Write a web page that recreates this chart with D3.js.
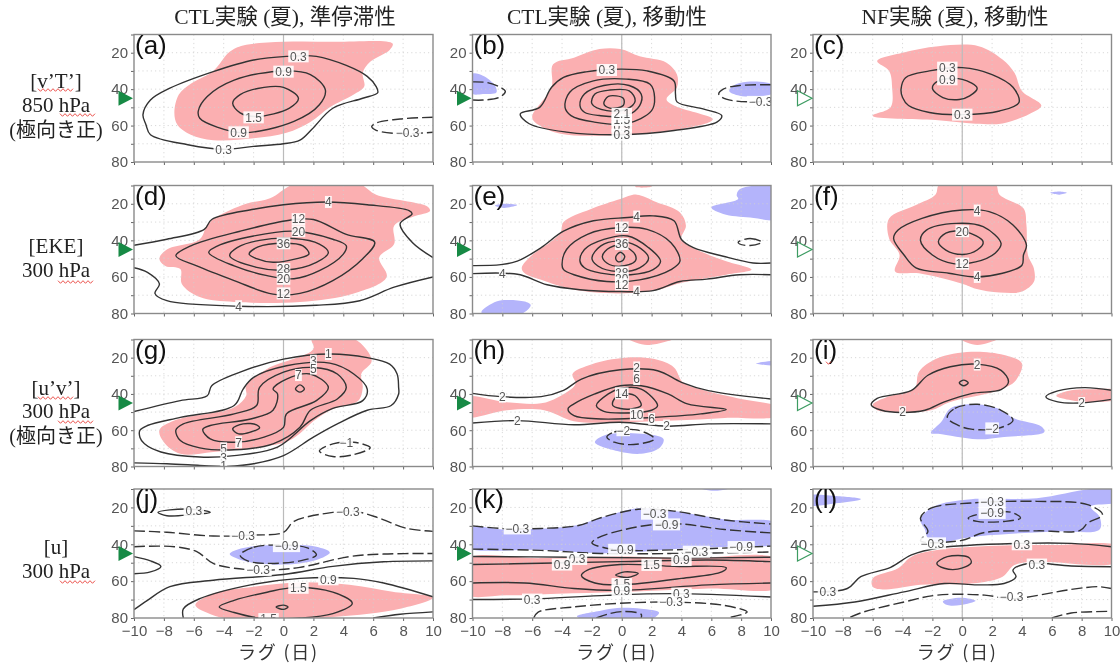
<!DOCTYPE html>
<html><head><meta charset="utf-8">
<script src="https://d3js.org/d3.v7.min.js"></script>
<style>html,body{margin:0;padding:0;background:#fff}svg{display:block;filter:blur(0.45px)}</style>
</head><body><div id="c"></div>
<script>
// ---- axis values ----
const lagTicks=[-10,-8,-6,-4,-2,0,2,4,6,8,10];
const latTicks=[10,20,30,40,50,60,70,80];
const latLabels=[20,40,60,80];
const jetLat=45;
const columnTitles=["CTL実験 (夏), 準停滞性","CTL実験 (夏), 移動性","NF実験 (夏), 移動性"];
const xAxisTitle="ラグ (日)";
// ---- panel a ----
const aPos=[[-7.3,53],[-7,43],[-6.2,37],[-4.7,30],[-3.6,19.5],[-2.7,16],[0,14],[3.3,14],[7.3,15],[7.1,18.5],[5.8,25],[5.3,31],[5.4,38.6],[4.7,43],[3.1,50],[1.8,58],[.2,64],[-2,67],[-4.7,68],[-6.2,65],[-7.1,59.5]];
const a03=[[-9.4,54],[-8.9,46],[-7.6,39.5],[-4.7,30.4],[-2,24],[.2,22],[2.2,22],[4.2,27],[5.6,33],[6.2,38.6],[6.3,42],[5.3,45],[3.3,50.5],[1.9,62],[1.1,68],[0,70],[-2,71.4],[-4,73],[-6.4,70.5],[-8.9,65],[-9.2,59.5]];
const a09=[[-5.7,52],[-5.1,44],[-3.3,35],[0,30],[1.8,32],[2.8,40.4],[2.4,48.6],[.7,57.7],[-2.7,64],[-4.4,61],[-5.6,56]];
const a15=[[-3.4,47.7],[-2.9,43],[-1.3,39],[0,39],[1,45],[.4,50.4],[-1.8,55],[-2.9,53]];
const aN03=[[10,55.4],[7.8,56.4],[6.2,58.6],[5.9,60.5],[6.2,62.6],[7.8,64.5],[10,63.7]];
const aLabels=[[1,22,"0.3"],[0,30.4,"0.9"],[-2,55.5,"1.5"],[-3,63.7,"0.9"],[-4,73,"0.3"],[8.3,64,"−0.3"]];
// ---- panel b ----
const bPos=[[-6,55.5],[-4.7,39],[-4.6,26.4],[-3.2,22.7],[-1.5,18],[-.1,18],[1.2,22],[3,25.5],[3.7,32],[3.7,39],[3,45.5],[3.5,49],[6.1,56.4],[5.9,58],[3,63],[-1,65.5],[-4.1,64.5],[-5.5,60]];
const bNegL=[[-10,31.5],[-9.3,32.7],[-8.5,38],[-8.4,41.8],[-9.3,42.7],[-10,42.7],[-10.5,37]];
const bNegR=[[10,37],[8.4,36],[7.5,38],[7.2,41],[7.9,43.6],[10,43],[10.5,40]];
const b03=[[-6.8,53.6],[-5.5,50],[-4.7,39],[-3.9,33.6],[-2.4,30.5],[-.1,29],[1.7,30],[3.5,35.5],[3.6,42.7],[3.7,47],[5.5,51],[6.7,54.5],[6.4,58],[3.5,62.7],[-.1,65],[-3.7,63.6],[-6.2,59]];
const b09=[[-3.8,50],[-3.5,41.8],[-1.9,35.5],[.3,34.5],[1.9,37.3],[2.2,44.5],[2,51.8],[.3,59],[-1.9,58],[-3.4,54.5]];
const b15=[[-2.8,49],[-2.5,42.7],[-1.2,38],[.5,38],[1.3,42.7],[1.2,49],[.3,54.5],[-1.5,54.5],[-2.5,52.7]];
const b18=[[-2,48],[-1.8,42.7],[-.8,40.5],[.5,41],[.9,46.4],[.3,51],[-1,51.8]];
const b21=[[-1.2,48],[-.9,44],[.1,45],[.1,49],[-.8,50.4]];
const bN03L=[[-10,36],[-9,36.4],[-8.2,38.7],[-7.8,41.3],[-8.2,44.5],[-9.3,46],[-10,46]];
const bN03R=[[10,37.6],[7.9,38],[6.8,40],[6.5,42.7],[7,45.5],[8.8,47],[10,46.4]];
const bLabels=[[-1,29.5,"0.3"],[0,60.5,"0.9"],[0,57,"1.5"],[0,53.6,"2.1"],[0,65,"0.3"],[9.3,47,"−0.3"]];
// ---- panel c ----
const cPos=[[-5.7,24.6],[-4,20],[-1.6,16.4],[1.1,16.4],[2.7,23.7],[3.5,31],[4,41],[5.3,49],[4.5,53.7],[2.7,58.8],[.9,59],[-1.8,57],[-6,54.6],[-4.8,50],[-4.7,39],[-4.9,30]];
const c03=[[-4.1,40],[-3.8,33.7],[-2.2,30],[0,28.2],[2,32],[3.4,39],[3.8,47.3],[2.5,52],[0,54],[-2.2,52.8],[-3.6,49],[-4,44.6]];
const c09=[[-2,39.5],[-1.6,35.5],[0,34.6],[1,39.5],[.5,43.7],[-.2,45.7],[-1.3,44.6]];
const cLabels=[[-1,28.2,"0.3"],[-1,34.6,"0.9"],[0,54,"0.3"]];
// ---- panel d ----
const dPos=[[-8.3,50],[-7.8,45],[-5.6,39.4],[-5,30.4],[-2.7,20.5],[-.9,17],[.8,9],[5,9],[6.2,15],[9.6,21.4],[9.8,24],[8.7,27],[7.4,32],[7.4,42],[6.4,49.4],[6.9,60],[4.7,69],[1.1,73.7],[-3.3,73.7],[-5.6,71],[-6.8,63.8],[-6.9,55.7],[-7.9,54]];
const d4a=[[-10,42.7],[-7.8,39.4],[-5.3,34],[-4.8,28.6],[-2,23],[0,20.5],[2.9,19],[5.6,20.5],[8.4,23.7],[8.6,25.5],[7.8,31],[8.6,41],[10,49.4]];
const d4b=[[-10,55],[-9.1,57.5],[-8.3,63.8],[-8.6,69],[-7.8,73],[-3,76],[2.2,75.5],[5.1,73],[7.4,65.6],[10,60]];
const d12=[[-7.2,48.4],[-6.2,43],[-2.9,35],[.4,29],[2,28.6],[4.2,36.7],[6.1,41],[5.3,50],[3.3,62],[1.1,69],[-.7,69.4],[-3.3,62],[-5.8,54]];
const d20=[[-5,46.6],[-4.4,43],[-2,37.6],[.7,35],[3.3,39.4],[4.2,43],[4,47.5],[2.4,56.6],[.7,61],[-1.1,59.3],[-3.3,54]];
const d28=[[-3.6,48.4],[-3.1,44],[-1.6,40],[.7,39],[2.4,42],[3,46.6],[2.2,52],[.2,56.2],[-1.8,54.8]];
const d36=[[-2.3,47.5],[-1.7,43.6],[0,41.6],[1.3,43],[1.7,47.5],[.9,50],[-.7,52],[-1.8,50]];
const dLabels=[[3,19,"4"],[1,28.4,"12"],[1,35,"20"],[0,41.6,"36"],[0,55.7,"28"],[0,61,"20"],[0,69,"12"],[-3,76,"4"]];
// ---- panel e ----
const ePos=[[-6.7,55],[-6.1,48.7],[-4.8,41],[-4.1,35.8],[-3.9,30],[-2.1,23],[-.1,17.4],[1,15],[2.3,19],[3.9,24.7],[4.3,32],[4,39.5],[5.5,46.8],[7,51.4],[8.7,56],[7,58.8],[3.9,63.4],[2.4,67],[-.1,69],[-3.2,67],[-5.4,61.6],[-6.5,58]];
const ePosTop=[[.9,10.5],[2,10],[2,10.6],[1,11]];
const eNeg1=[[10.5,11.5],[7.9,12],[7.7,15.5],[7.8,17.4],[6,22],[6.8,25.6],[8.6,27.5],[10.5,28]];
const eNeg2=[[-9.4,79],[-8.4,73.5],[-7.7,72.6],[-6.5,73.5],[-6.1,75.4],[-6.8,80.5],[-9.3,80.5]];
const eNeg3=[[-8.5,21],[-7.9,20],[-7,20.7],[-7.9,22.3]];
const e4a=[[-10,53.8],[-8.1,53.3],[-7,51.4],[-5.4,44],[-3.9,35],[-1.9,29.3],[.4,27.5],[2.1,26.6],[3.5,29.3],[4,39.5],[4.8,44],[6.8,48.7],[8.8,52.4],[10,52.4]];
const e4b=[[-10,58.2],[-8.1,57.9],[-6.8,58.8],[-5,64.3],[-2.8,67],[-.1,68],[2.1,67.5],[3.9,62.5],[5.7,61.2],[7.9,58.8],[10,58.8]];
const e12=[[-4,53.3],[-3.7,45],[-2.3,36.7],[-.1,33],[1.7,34],[3.3,41.3],[3.9,51.4],[3.3,56],[1.2,61.6],[-1,62.5],[-3.2,58.8],[-3.9,56]];
const e20=[[-2.8,51.4],[-2.5,45],[-1.2,39.5],[.4,37.6],[1.8,44],[2.6,51.4],[2.1,56],[.6,58.8],[-1.4,57.9],[-2.5,55]];
const e28=[[-2,49.6],[-1.4,43],[-.3,40.4],[1,43],[1.8,49.6],[1.2,55],[-.3,57],[-1.6,54]];
const e36=[[-1.3,48.7],[-.8,44],[.1,43],[.9,47.8],[.9,51.4],[-.1,54.2],[-1,52.4]];
const e44=[[-.4,49],[-.1,46.5],[.2,48.7],[0,51.4],[-.3,51.4]];
const eN4=[[7.8,41],[8.6,39],[9.4,41],[8.6,42.8],[7.9,42]];
const eLabels=[[1,27,"4"],[0,33,"12"],[0,42,"36"],[0,57.5,"28"],[0,61,"20"],[0,64,"12"],[1,68,"4"],[-8,58,"4"]];
// ---- panel f ----
const fPos=[[-1.5,9],[2.2,9],[2.5,15],[4.1,22.5],[4.3,31.6],[4.4,48],[4.8,55.4],[4.8,62.7],[4,68],[2.5,68.5],[.9,66.4],[0,63.7],[-2.9,58],[-4.5,57],[-4.2,48],[-4.9,39],[-4.9,28],[-3.1,20.6],[-1.8,15]];
const fNeg=[[5.9,14],[6.5,13.3],[7,14],[6.5,15]];
const f4=[[-4.6,39],[-4.3,34.4],[-2.7,28],[0,23.4],[1.8,24.3],[3.4,31.6],[4.3,42.6],[4.1,48],[4,53.6],[2.7,58],[.9,60],[-.9,58],[-3.1,55],[-3.9,48]];
const f12=[[-2.8,40],[-2.4,34.4],[-.4,30.7],[1.4,32.5],[2.6,41.7],[2.2,47],[.9,51.8],[-.6,52.7],[-2,48]];
const f20=[[-1.6,40.8],[-1.1,36],[.2,35.3],[1.4,40.8],[1,45.3],[0,47.7],[-1.1,45.3]];
const fLabels=[[1,23.7,"4"],[0,35,"20"],[0,52.7,"12"],[1,60,"4"]];
// ---- panel g ----
const gPos=[[-8.3,60],[-7.3,54.7],[-3.3,47.4],[-2.5,41],[-2.5,35.5],[-1.1,26.3],[2,15.3],[1.9,9.5],[4.7,9.5],[5.9,21.7],[5.2,29],[5.3,36.4],[5,43.7],[3.3,48.3],[2.2,53.8],[.4,65.7],[-1.6,69.3],[-4.7,72],[-6.9,73],[-8,66.6]];
const g1a=[[-10,49.7],[-6.9,43.7],[-5.1,41],[-4.8,35.5],[-2.9,28],[0,20.8],[3.1,18],[5.6,20],[7.1,23.6],[7.6,29],[7.7,36.4],[7.7,40],[7.2,46.4],[5.6,49],[3.6,56.5],[2,63.8],[0,74],[-2,78.5],[-3.8,80]];
const g1b=[[-10,78],[-7.8,78.5],[-5.6,79.4],[-4,80]];
const g3=[[-9.6,60],[-9.1,57.4],[-6.9,52.9],[-3.3,46.4],[-2.7,37.3],[-2,30.9],[.2,24.5],[3.1,23],[4.7,29],[5.6,37.3],[5.3,43.7],[3.3,48],[1.8,54.7],[-.4,69.3],[-3.3,74],[-5.6,74.8],[-8.2,72],[-9.3,67.5],[-9.6,64]];
const g5=[[-7.2,60],[-6.7,56.5],[-3.3,51],[-1.8,46.4],[-1.6,36.4],[0,28],[2,25.4],[3.6,29],[4.2,36.4],[3.6,42.8],[1.8,49],[1.1,58.4],[-.7,67.5],[-3.3,70.8],[-5.6,69.7],[-6.9,65.7]];
const g7=[[-5.4,59.6],[-4.9,57.4],[-2.2,53.8],[-.7,49],[-.4,40],[-.7,37.3],[.2,31.8],[1.8,29],[3,36.4],[2.2,43.7],[.2,51],[0,58.4],[-1.3,63.8],[-3.3,66.6],[-4.9,64.8]];
const g9a=[[.8,37.3],[1.1,35],[1.4,37.3],[1.1,39]];
const g9b=[[-3.4,59.3],[-2.7,56.5],[-1.8,57],[-1.6,58.7],[-2.2,61],[-3,62]];
const gN1=[[2.4,71.5],[3.3,67.5],[4.7,66.6],[5.8,69.7],[4.7,73.4],[3.3,74.5]];
const gLabels=[[3,18,"1"],[2,21.7,"3"],[2,26,"5"],[1,29.6,"7"],[-3,66.6,"7"],[-4,70,"5"],[-4,75,"3"],[-4,79.4,"1"],[4.2,67,"−1"]];
// ---- panel h ----
const hPos=[[-10.5,42],[-7.7,44.6],[-5.4,45.2],[-4.3,42],[-3.1,34.5],[-3.3,29],[-2,23.6],[.2,20],[2.2,20.8],[3.5,25.4],[4.1,33.6],[5.5,38],[8,42.8],[10.5,47.4],[10.5,52],[6.9,53.2],[3.5,54.7],[-.1,55.6],[-3.2,55],[-5.2,49],[-7.7,49],[-10.5,52.5]];
const hPosTop=[[.4,9.5],[1.7,13],[3.5,9.5]];
const hNeg1=[[-1.8,66.6],[-1,62.4],[1.3,62],[2.8,64.8],[2.5,70],[1.3,73],[-.3,71.5]];
const hNeg2=[[9,23.2],[10.5,22],[10.5,24]];
const h2a=[[-10,39.7],[-8.1,41.5],[-5.4,41.5],[-3.9,38],[-2.7,31.8],[-.1,26.7],[2.4,27.2],[4,33.6],[5.8,38.2],[10,42.8]];
const h2b=[[-10,56],[-7,54.7],[-3.2,57],[-.1,55.6],[3.1,57.8],[5.8,56.5],[10,56.5]];
const h6=[[-3.6,48.3],[-3.2,45.5],[-1.8,40],[-.1,35.5],[1.3,35.5],[3.1,40],[4.4,45.5],[7,48.6],[5.3,51],[2.2,52.9],[-1.4,53.8],[-3.2,52]];
const h10=[[-1.7,46.4],[-.9,40],[-.1,37],[1.3,37.3],[2.4,46.4],[2,49],[.2,50.5],[-1.2,49.6]];
const h14=[[-.6,46.4],[-.5,42.8],[0,40],[.9,41],[1.3,46.4],[.6,48.3],[-.1,48]];
const hN2=[[-1,63.8],[-.5,61],[1,59.8],[2.2,64.8],[.8,67.9],[-.5,66.6]];
const hLabels=[[1,25.4,"2"],[1,31.8,"6"],[0,39.7,"14"],[1,51.4,"10"],[2,53.8,"6"],[3,57.4,"2"],[-7,54.7,"2"],[-8,41.5,"2"],[.1,60,"−2"]];
// ---- panel i ----
const iPos=[[-6,46],[-5,41.6],[-3.2,37],[-2.9,27.8],[-1.7,20.5],[.6,16.8],[2.8,18.6],[4,23.2],[3.6,32.4],[3,36],[1.7,39.8],[-.8,44.4],[-2.1,49],[-4.3,49.9],[-5.7,49]];
const iPosTop=[[-.2,9.5],[1,13],[2.4,9.5]];
const iPosR=[[6.3,41],[7.3,38],[8.6,37.4],[10.5,38.3],[10.5,42.5],[8.6,44.4],[7.3,43.5]];
const iNeg=[[-2.1,61.5],[-1.4,55.4],[-.8,48],[.6,45.7],[2.4,48],[3.5,53.6],[5.3,58],[5.5,61],[2.8,63.7],[1,65],[-1.6,62]];
const i2=[[-6.1,46],[-5.7,42.5],[-3.4,38],[-2.3,29.7],[-.8,25],[1,23.6],[2.6,27],[3.1,33.3],[2.6,37.6],[.6,39.8],[-1.2,44.4],[-2.5,49],[-4.1,50.2],[-5.4,49]];
const i6=[[-.2,33.9],[.1,32.4],[.4,33.9],[.1,35.5]];
const i2R=[[10,38],[8.2,36.5],[6.4,38.3],[5.6,41.6],[6.4,44.4],[7.9,45],[10,43]];
const iN2=[[-1,53],[-.5,48],[1,45.7],[2.6,49],[3.4,54.5],[2.4,59],[.6,59.4],[-.3,57.2]];
const iLabels=[[1,23.8,"2"],[-4,50,"2"],[8,45,"2"],[2,59,"−2"]];
// ---- panel j ----
const jPos=[[-5.9,73],[-4.7,66.7],[-2,63],[1.1,60.7],[4.4,62],[7.3,65.8],[10,69],[7.8,75],[3.3,79.5],[-3.3,80.5],[-4.7,78.5]];
const jNeg=[[-3.6,45.3],[-2.7,42],[0,40.4],[2.2,41.3],[3.1,44.4],[2.2,48.5],[0,51],[-2.4,49.5]];
const jN09=[[-2.9,45.8],[-2,41.6],[0,40.4],[1.6,42],[2.2,45.8],[1.1,49],[-1.1,50.4],[-2.4,49]];
const jN03a=[[-10,32.7],[-7.8,33.5],[-4.7,35.5],[-2,35],[0,33.5],[.7,27.6],[3.3,22.7],[4.7,22],[6.4,25.8],[8.2,31.3],[10,33]];
const jN03b=[[-10,41.3],[-7.3,41.3],[-5.8,44],[-4.7,50.4],[-3.3,53],[-1.1,54],[1.1,52.5],[4.4,46.7],[6.7,45.3],[10,45]];
const j03=[[-8.4,22.7],[-7.6,21.3],[-5.6,21.3],[-4.9,22.7],[-6.2,24],[-7.8,24.5]];
const j09a=[[-10,46.7],[-8.9,49],[-8.2,52],[-8.9,55],[-10,56]];
const j09b=[[-10,75.5],[-9.1,70.4],[-7.6,63],[-4.7,59.5],[0,56.4],[3.3,52],[6.7,49.5],[10,49]];
const j09c=[[-6.7,80],[-6.7,75],[-5.6,69.5],[-2.2,62],[1.1,58.5],[4.7,58.5],[6.7,61],[10,68.5]];
const j09d=[[6,80],[7.8,78],[10,76.7]];
const j15=[[-4.3,74],[-3.3,70.4],[-1.1,66],[.7,63.5],[3.3,66],[4.6,72],[3.3,77.6],[1.1,80],[-1.6,80],[-3.3,77]];
const j21=[[-.5,74],[0,73],[.3,74],[0,75.3]];
const jLabels=[[-6,21.8,"0.3"],[4.3,22.2,"−0.3"],[-2.7,35.5,"−0.3"],[.2,41,"−0.9"],[-1.7,54,"−0.3"],[3,59,"0.9"],[1,63.6,"1.5"],[-1,80.6,"1.5"]];
// ---- panel k ----
const kNeg1=[[-10.5,31],[-7.7,32],[-3.2,30],[-1.4,25.6],[1.1,20.4],[3.5,22],[6.9,26.5],[10.5,29],[10.5,39.3],[8,41],[4.6,42],[1.3,44],[-1.4,44.8],[-5.4,43],[-10.5,41]];
const kNeg2=[[-3,79],[-1.4,76],[-.3,74.6],[1.3,75],[2.5,77],[2,80.5],[-2.7,80.5]];
const kNeg3=[[5.2,9.5],[6.2,11],[7.3,9.5]];
const kPos=[[-10.5,48.5],[-5.4,47.5],[-.1,46.6],[4.6,47.5],[10.5,48.5],[10.5,63],[5.8,64],[-.1,65.9],[-4.3,66.8],[-7.7,67.7],[-10.5,66.8]];
const k03a=[[-10,46.6],[-3.2,47],[3.5,47.5],[10,47]];
const k09a=[[-10,51],[-5.4,50.3],[-.1,49.4],[5.8,48.5],[10,49.4]];
const k09b=[[-10,61],[-6.5,61],[-3.2,64],[-.1,65],[5.8,62],[10,61]];
const k03b=[[-10,70],[-5.4,69.5],[-1,67.7],[3.5,66.8],[10,68.6]];
const k15=[[-2.7,57],[-2.3,54],[-.1,51],[3.5,52],[7,52.7],[6.7,55],[4,58.5],[-.1,62],[-1.8,61]];
const k21=[[-.4,56.7],[.2,55],[1.1,55.8],[.4,58]];
const kN03a=[[-10,30],[-7.7,31.6],[-5.4,31.4],[-2.9,29.8],[-1.4,25.6],[1.1,21],[3.5,22],[6.9,26.8],[10,29]];
const kN09=[[10,33.8],[6.9,32],[4,29],[2.2,29.2],[.2,32],[-1.6,36.5],[-2,39.3],[-1.1,42],[.4,43.3],[3.5,43],[10,41]];
const kN03b=[[-10,42.6],[-5.4,43.3],[-1.4,45],[3.5,45],[10,44.2]];
const kN03c=[[-5.9,80],[-5.6,76.8],[-3.2,74],[-.1,72],[3.5,71.4],[6.9,73.2],[8.4,76.8],[7.3,79.6]];
const kN09b=[[-1.7,80],[-.9,77.8],[.1,76.5],[1.3,78],[1.3,80]];
const kLabels=[[-7,31.4,"−0.3"],[2.2,23.4,"−0.3"],[3,29.2,"−0.9"],[0,43,"−0.9"],[8,41.5,"−0.9"],[5,44,"−0.3"],[4,48.5,"0.9"],[-3,48,"0.3"],[-4,51,"0.9"],[2,51.2,"1.5"],[0,61.6,"1.5"],[0,65.3,"0.9"],[-6,70,"0.3"],[4,66.8,"0.3"],[3.3,71.4,"−0.3"]];
// ---- panel l ----
const lNeg1=[[-2.5,32],[-2.8,26.7],[-1.9,19.5],[.6,15.5],[5,15],[8.6,10],[10.5,10],[10.5,16.7],[8.6,19.5],[9.2,25],[9.2,32],[6.2,33],[2,35],[.1,36.7],[-1.5,39],[-2.3,36.7]];
const lNeg2=[[-10.5,14],[-8.3,14],[-6.8,15.5],[-8.3,17.6],[-10.5,18.5]];
const lNeg3=[[-1.3,71],[-.1,69],[.9,70.7],[-.1,73],[-1,73]];
const lPos=[[-6,58.5],[-4.3,53],[-3.4,46.7],[-1.6,43],[2.8,40.7],[6.2,40.4],[10.5,41.3],[10.5,49.5],[5,49.5],[3.5,51.3],[2.7,57.6],[1,61],[-2.8,62],[-5.2,64.5],[-6,63]];
const lN03a=[[-2.8,25.8],[-2.1,20.4],[.6,17.6],[5,16.7],[8.4,18.5],[9.4,24],[8.4,28.5],[7.9,32.5],[5,32.7],[1.5,33.6],[-.1,38],[-2.8,38],[-2.3,33]];
const lN09=[[.4,25.8],[1.5,23],[3.3,22.7],[3.9,25.8],[2.8,27.6],[1,27.6]];
const l03a=[[-10,65.8],[-7.7,64],[-6.8,57.6],[-4.8,52.5],[-3.4,45.8],[-1.6,42],[3.9,39.5],[7.3,39.5],[10,41.3]];
const l03b=[[-10,73.6],[-7.2,71.3],[-3.9,65.8],[-1.2,61.3],[1,62],[2.8,61.3],[3.6,57.6],[3.4,54],[4.4,50.4],[7.3,51.8],[10,52.2]];
const l09=[[-1.7,50.4],[-1,46.7],[.4,47],[.6,50],[-.3,53.5],[-1.2,53]];
const lN03b=[[-7.5,79.5],[-6.6,76.7],[-3.9,71.3],[-1.7,67.6],[1.5,67.6],[3.3,69.5],[7.3,64.5],[9.1,63],[10,64]];
const lN03c=[[6,80],[7.3,77.3],[10,76.4]];
const lLabels=[[2,17,"−0.3"],[2,23,"−0.9"],[-2,39.5,"−0.3"],[-9,65.8,"0.3"],[4,40,"0.3"],[5,51,"0.3"],[3.3,68.6,"−0.3"]];

// ---- layout ----
const colX=[[134,433],[472.5,771],[813,1111.5]];
const rowY=[[34.5,162],[185.5,313.5],[339.5,466.5],[489,618]];
const W=1120,H=668;
const svg=d3.select("#c").append("svg").attr("width",W).attr("height",H).attr("viewBox",[0,0,W,H]);
const defs=svg.append("defs");
const POS="#fbafb1",NEG="#b4b4fb",INK="#333",GREY="#666";
const sans="'Liberation Sans',Arial,sans-serif";
const serif="'Liberation Serif','Noto Sans CJK JP',serif";

const panels=[
 {n:"a",c:0,r:0,pos:[aPos],neg:[],solidClosed:[a03,a09,a15],solidOpen:[],dashClosed:[],dashOpen:[aN03],labels:aLabels},
 {n:"b",c:1,r:0,pos:[bPos],neg:[bNegL,bNegR],solidClosed:[b03,b09,b15,b18,b21],solidOpen:[],dashClosed:[],dashOpen:[bN03L,bN03R],labels:bLabels},
 {n:"c",c:2,r:0,pos:[cPos],neg:[],solidClosed:[c03,c09],solidOpen:[],dashClosed:[],dashOpen:[],labels:cLabels},
 {n:"d",c:0,r:1,pos:[dPos],neg:[],solidClosed:[d12,d20,d28,d36],solidOpen:[d4a,d4b],dashClosed:[],dashOpen:[],labels:dLabels},
 {n:"e",c:1,r:1,pos:[ePos,ePosTop],neg:[eNeg1,eNeg2,eNeg3],solidClosed:[e12,e20,e28,e36,e44],solidOpen:[e4a,e4b],dashClosed:[eN4],dashOpen:[],labels:eLabels},
 {n:"f",c:2,r:1,pos:[fPos],neg:[fNeg],solidClosed:[f4,f12,f20],solidOpen:[],dashClosed:[],dashOpen:[],labels:fLabels},
 {n:"g",c:0,r:2,pos:[gPos],neg:[],solidClosed:[g3,g5,g7,g9a,g9b],solidOpen:[g1a,g1b],dashClosed:[gN1],dashOpen:[],labels:gLabels},
 {n:"h",c:1,r:2,pos:[hPos,hPosTop],neg:[hNeg1,hNeg2],solidClosed:[h6,h10,h14],solidOpen:[h2a,h2b],dashClosed:[hN2],dashOpen:[],labels:hLabels},
 {n:"i",c:2,r:2,pos:[iPos,iPosTop,iPosR],neg:[iNeg],solidClosed:[i2,i6],solidOpen:[i2R],dashClosed:[iN2],dashOpen:[],labels:iLabels},
 {n:"j",c:0,r:3,pos:[jPos],neg:[jNeg],solidClosed:[j03,j15,j21],solidOpen:[j09a,j09b,j09c,j09d],dashClosed:[jN09],dashOpen:[jN03a,jN03b],labels:jLabels},
 {n:"k",c:1,r:3,pos:[kPos],neg:[kNeg1,kNeg2,kNeg3],solidClosed:[k15,k21],solidOpen:[k03a,k09a,k09b,k03b],dashClosed:[],dashOpen:[kN03a,kN09,kN03b,kN03c,kN09b],labels:kLabels},
 {n:"l",c:2,r:3,pos:[lPos],neg:[lNeg1,lNeg2,lNeg3],solidClosed:[l09],solidOpen:[l03a,l03b],dashClosed:[lN03a,lN09],dashOpen:[lN03b,lN03c],labels:lLabels}
];

panels.forEach(p=>{
  const [x0,x1]=colX[p.c],[y0,y1]=rowY[p.r];
  const x=d3.scaleLinear().domain([-10,10]).range([x0,x1]);
  const y=d3.scaleLinear().domain([10,80]).range([y0,y1]);
  const cid="clip"+p.n;
  defs.append("clipPath").attr("id",cid).append("rect").attr("x",x0).attr("y",y0).attr("width",x1-x0).attr("height",y1-y0);
  const g=svg.append("g");
  const open=d3.line().x(d=>x(d[0])).y(d=>y(d[1])).curve(d3.curveCatmullRom.alpha(.5));
  const closed=d3.line().x(d=>x(d[0])).y(d=>y(d[1])).curve(d3.curveCatmullRomClosed.alpha(.5));
  const body=g.append("g").attr("clip-path",`url(#${cid})`);
  body.selectAll("path.pos").data(p.pos).join("path").attr("class","pos").attr("d",closed).attr("fill",POS);
  body.selectAll("path.neg").data(p.neg).join("path").attr("class","neg").attr("d",closed).attr("fill",NEG);
  // dotted grid
  body.selectAll("line.gx").data(lagTicks.slice(1,-1)).join("line").attr("class","gx")
    .attr("x1",x).attr("x2",x).attr("y1",y0).attr("y2",y1).attr("stroke","#cfcfcf").attr("stroke-width",.8).attr("stroke-dasharray","1.2,3");
  body.selectAll("line.gy").data(latTicks.slice(1,-1)).join("line").attr("class","gy")
    .attr("y1",y).attr("y2",y).attr("x1",x0).attr("x2",x1).attr("stroke","#cfcfcf").attr("stroke-width",.8).attr("stroke-dasharray","1.2,3");
  body.append("line").attr("x1",x(0)).attr("x2",x(0)).attr("y1",y0).attr("y2",y1).attr("stroke","#bbb").attr("stroke-width",1.2);
  const draw=(arr,gen,dash)=>body.append("g").selectAll("path").data(arr).join("path")
    .attr("d",gen).attr("fill","none").attr("stroke",INK).attr("stroke-width",1.4)
    .attr("stroke-dasharray",dash?"11,4":null);
  draw(p.solidClosed,closed,false);
  draw(p.solidOpen,open,false);
  draw(p.dashClosed,closed,true);
  draw(p.dashOpen,open,true);
  // contour labels
  const lab=body.append("g").selectAll("g").data(p.labels).join("g")
    .attr("transform",d=>`translate(${x(d[0])},${y(d[1])})`);
  lab.append("rect").attr("x",d=>-(d[2].length*3.4)).attr("width",d=>d[2].length*6.8).attr("y",-6).attr("height",12).attr("fill","#fff").attr("fill-opacity",.9);
  lab.append("text").text(d=>d[2]).attr("text-anchor","middle").attr("dy","0.36em")
    .attr("font-family",sans).attr("font-size",12).attr("fill","#555");
  // axes
  const ax=g.append("g").attr("transform",`translate(0,${y1})`).call(
    d3.axisBottom(x).tickValues(lagTicks).tickSize(3).tickPadding(4).tickFormat(p.r===3?(d=>d<0?"−"+(-d):""+d):""));
  const ay=g.append("g").attr("transform",`translate(${x0},0)`).call(
    d3.axisLeft(y).tickValues(latTicks).tickSize(3).tickPadding(3).tickFormat(d=>latLabels.includes(d)?d:""));
  [ax,ay].forEach(a=>{a.select(".domain").remove();
    a.selectAll("line").attr("stroke",GREY).attr("stroke-width",1);
    a.selectAll("text").attr("font-family",sans).attr("font-size",15).attr("fill","#555");});
  g.append("rect").attr("x",x0).attr("y",y0).attr("width",x1-x0).attr("height",y1-y0)
    .attr("fill","none").attr("stroke","#8a8a8a").attr("stroke-width",1.4);
  // panel letter
  g.append("text").text(`(${p.n})`).attr("x",x0+1).attr("y",y0+19)
    .attr("font-family",sans).attr("font-size",26).attr("fill","#111");
  // jet latitude marker
  const ty=y(jetLat),tr=x0-1;
  const tri=g.append("path").attr("d",`M${tr-14.5},${ty-7.5}L${tr},${ty}L${tr-14.5},${ty+7.5}Z`);
  if(p.c===2) tri.attr("fill","#fff").attr("stroke","#3d9c62").attr("stroke-width",1.2);
  else tri.attr("fill","#178a45");
  if(p.r===3) g.append("text").text(xAxisTitle).attr("x",(x0+x1)/2-5).attr("y",659)
    .attr("text-anchor","middle").attr("font-family","'Noto Sans CJK JP',sans-serif").attr("font-size",18).attr("letter-spacing",1.8).attr("fill","#333");
});

// column titles
const titleX=[285,607,955];
svg.selectAll("text.ct").data(columnTitles).join("text").attr("class","ct").text(d=>d)
  .attr("x",(d,i)=>titleX[i]).attr("y",24).attr("text-anchor","middle")
  .attr("font-family",serif).attr("font-size",21.5).attr("fill","#222");

// row captions
const rowText=[[56,88,"[v’T’]",21],[56,112,"850 hPa",21],[56,137,"(極向き正)",20],[56,253,"[EKE]",21],[56,277,"300 hPa",21],[56,395,"[u’v’]",21],[56,418,"300 hPa",21],[56,443,"(極向き正)",20],[56,554,"[u]",21],[56,578,"300 hPa",21]];
svg.selectAll("text.rt").data(rowText).join("text").attr("class","rt").text(d=>d[2])
  .attr("x",d=>d[0]).attr("y",d=>d[1]).attr("text-anchor","middle")
  .attr("font-family",serif).attr("font-size",d=>d[3]).attr("fill","#222");
// spell-check squiggles
const squiggles=[[38,73,90],[60,95,115],[58,93,282],[38,73,398],[58,93,422],[60,95,582],[826,832,363]];
squiggles.forEach(([a,b,yy])=>{
  const pts=d3.range(a,b+.01,2.5).map((v,i)=>[v,yy+(i%2?1.3:-1.3)]);
  svg.append("path").attr("d",d3.line()(pts)).attr("fill","none").attr("stroke","#e8403a").attr("stroke-width",.9);
});
</script></body></html>
